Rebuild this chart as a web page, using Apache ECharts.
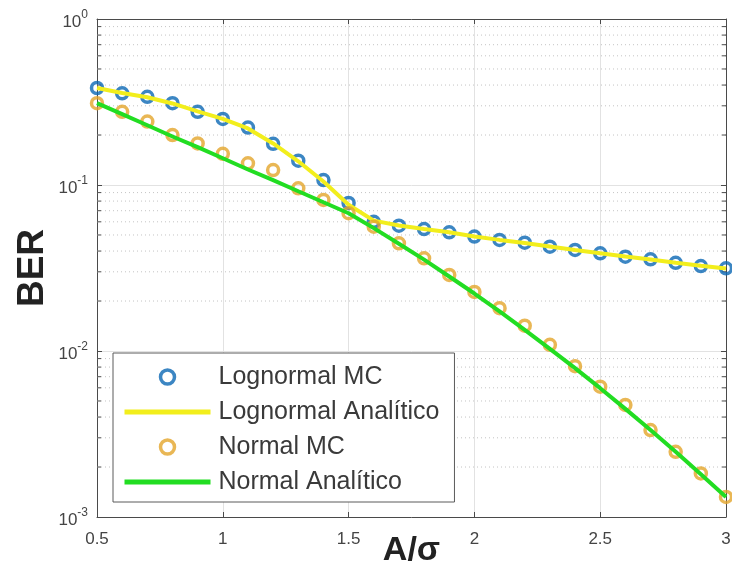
<!DOCTYPE html>
<html>
<head>
<meta charset="utf-8">
<script src="https://cdn.jsdelivr.net/npm/echarts@6/dist/echarts.min.js"></script>
<style>
html,body{margin:0;padding:0;background:#fff;}
#chart{width:732px;height:570px;}
</style>
</head>
<body>
<div id="chart"></div>
<script>
// ---- data ----
const xValues = [0.5,0.6,0.7,0.8,0.9,1.0,1.1,1.2,1.3,1.4,1.5,1.6,1.7,1.8,1.9,2.0,2.1,2.2,2.3,2.4,2.5,2.6,2.7,2.8,2.9,3.0];
const lognormalMC = [0.384,0.357,0.340,0.311,0.276,0.250,0.222,0.177,0.140,0.107,0.078,0.0600,0.0569,0.0543,0.0519,0.0489,0.0467,0.0449,0.0425,0.0406,0.0388,0.0370,0.0357,0.0340,0.0325,0.0315];
const lognormalAnalitico = [0.384,0.358,0.338,0.310,0.278,0.250,0.219,0.178,0.139,0.105,0.076,0.0610,0.0570,0.0543,0.0519,0.0490,0.0467,0.0447,0.0426,0.0406,0.0388,0.0371,0.0356,0.0340,0.0326,0.0314];
const normalMC = [0.311,0.276,0.241,0.200,0.178,0.154,0.135,0.123,0.0955,0.0813,0.0676,0.0561,0.0445,0.0362,0.0287,0.0227,0.0181,0.0142,0.0109,0.0081,0.0061,0.00473,0.00334,0.00247,0.00183,0.00132];
const normalAnalitico = [0.311,0.267,0.229,0.196,0.169,0.145,0.124,0.107,0.0917,0.0787,0.0676,0.0550,0.0443,0.0355,0.0281,0.0222,0.0173,0.0134,0.0103,0.00788,0.00597,0.00448,0.00334,0.00247,0.00181,0.00132];
const seriesNames = ['Lognormal MC','Lognormal Analítico','Normal MC','Normal Analítico'];
const minorY = [0.002,0.003,0.004,0.005,0.006,0.007,0.008,0.009,0.02,0.03,0.04,0.05,0.06,0.07,0.08,0.09,0.2,0.3,0.4,0.5,0.6,0.7,0.8,0.9];
const xMin = 0.5, xMax = 3, yMin = 0.001, yMax = 1;

const pair = (arr) => xValues.map((x, i) => [x, arr[i]]);
const FONT = '"Liberation Sans", Arial, Helvetica, sans-serif';
const AX = '#4a4a4a';
const BLUE = '#0b68b4', ORANGE = '#e4a52a', YELLOW = '#f2ee1c', GREEN = '#22dd22';
const CLEAR = 'rgba(255,255,255,0)';

const chart = echarts.init(document.getElementById('chart'), null, {renderer: 'canvas'});
const option = {
  backgroundColor: '#ffffff',
  animation: false,
  textStyle: {fontFamily: FONT},
  grid: {left: 97, right: 6, top: 19, bottom: 53, containLabel: false, outerBoundsMode: 'none'},
  legend: {
    data: [
      {name: seriesNames[0], icon: 'circle', itemStyle: {color: CLEAR, borderColor: BLUE, borderWidth: 3.5}},
      {name: seriesNames[1], itemStyle: {opacity: 0}, lineStyle: {color: YELLOW, width: 5}},
      {name: seriesNames[2], icon: 'circle', itemStyle: {color: CLEAR, borderColor: ORANGE, borderWidth: 3.5}},
      {name: seriesNames[3], itemStyle: {opacity: 0}, lineStyle: {color: GREEN, width: 5}}
    ],
    orient: 'vertical',
    left: 113, top: 353,
    itemWidth: 86, itemHeight: 14, itemGap: 7,
    padding: [10, 15, 6, 9],
    backgroundColor: '#ffffff',
    borderColor: '#5a5a5a', borderWidth: 1, borderRadius: 0,
    textStyle: {fontSize: 25, color: '#3a3a3a', fontFamily: FONT, lineHeight: 28, padding: [0,0,0,3]},
    selectedMode: false
  },
  xAxis: [{
    type: 'value', min: xMin, max: xMax, interval: 0.5, position: 'bottom',
    name: 'A/σ', nameLocation: 'middle', nameGap: 17, nameMoveOverlap: false,
    nameTextStyle: {fontSize: 34, fontWeight: 'bold', color: '#222', fontFamily: FONT},
    axisLine: {show: true, lineStyle: {color: AX, width: 1}},
    axisTick: {show: true, inside: true, length: 5, lineStyle: {color: AX}},
    axisLabel: {fontSize: 17, color: '#444', margin: 14, fontFamily: FONT},
    splitLine: {show: true, lineStyle: {color: '#e2e2e2', width: 1}}
  }, {
    type: 'value', min: xMin, max: xMax, interval: 0.5, position: 'top',
    axisLine: {show: true, lineStyle: {color: AX, width: 1}},
    axisTick: {show: true, inside: true, length: 5, lineStyle: {color: AX}},
    axisLabel: {show: false}, splitLine: {show: false}
  }],
  yAxis: [{
    type: 'log', logBase: 10, min: yMin, max: yMax, position: 'left',
    name: 'BER', nameLocation: 'middle', nameGap: 46, nameRotate: 90, nameMoveOverlap: false,
    nameTextStyle: {fontSize: 37, fontWeight: 'bold', color: '#222', fontFamily: FONT},
    axisLine: {show: true, lineStyle: {color: AX, width: 1}},
    axisTick: {show: true, inside: true, length: 5, lineStyle: {color: AX}},
    axisLabel: {
      margin: 9,
      formatter: function (v) {
        const e = Math.round(Math.log10(v));
        return '{b|10}{s|' + e + '}';
      },
      rich: {
        b: {fontSize: 17, color: '#444', fontFamily: FONT, padding: [7,0,0,0]},
        s: {fontSize: 12, color: '#444', fontFamily: FONT, padding: [0,0,8,0]}
      }
    },
    splitLine: {show: true, lineStyle: {color: '#e2e2e2', width: 1}}
  }, {
    type: 'log', logBase: 10, min: yMin, max: yMax, position: 'right',
    axisLine: {show: true, lineStyle: {color: AX, width: 1}},
    axisTick: {show: true, inside: true, length: 5, lineStyle: {color: AX}},
    axisLabel: {show: false}, splitLine: {show: false}
  }],
  series: [
    {
      name: 'minorGrid', type: 'custom', silent: true, z: 1,
      xAxisIndex: 0, yAxisIndex: 0, clip: false,
      data: minorY.map(v => [xMin, v]),
      encode: {x: 0, y: 1},
      renderItem: function (params, api) {
        const v = api.value(1);
        const l = api.coord([xMin, v]);
        const r = api.coord([xMax, v]);
        return {
          type: 'group',
          children: [
            {type: 'line', shape: {x1: l[0], y1: l[1], x2: r[0], y2: r[1]},
             style: {stroke: '#c4c4c4', lineWidth: 1, lineDash: [1, 3]}},
            {type: 'line', shape: {x1: l[0], y1: l[1], x2: l[0] + 4, y2: l[1]},
             style: {stroke: AX, lineWidth: 1}},
            {type: 'line', shape: {x1: r[0] - 4, y1: r[1], x2: r[0], y2: r[1]},
             style: {stroke: AX, lineWidth: 1}}
          ]
        };
      }
    },
    {
      name: seriesNames[0], type: 'scatter', z: 3, clip: false,
      symbol: 'circle', symbolSize: 11,
      itemStyle: {color: CLEAR, borderColor: BLUE, borderWidth: 3.5},
      data: pair(lognormalMC)
    },
    {
      name: seriesNames[1], type: 'line', z: 4, symbol: 'none', showSymbol: false, clip: false,
      itemStyle: {color: YELLOW},
      lineStyle: {color: YELLOW, width: 4},
      data: pair(lognormalAnalitico)
    },
    {
      name: seriesNames[2], type: 'scatter', z: 5, clip: false,
      symbol: 'circle', symbolSize: 11,
      itemStyle: {color: CLEAR, borderColor: ORANGE, borderWidth: 3.5},
      data: pair(normalMC)
    },
    {
      name: seriesNames[3], type: 'line', z: 6, symbol: 'none', showSymbol: false, clip: false,
      itemStyle: {color: GREEN},
      lineStyle: {color: GREEN, width: 4},
      data: pair(normalAnalitico)
    }
  ]
};
chart.setOption(option);
</script>
</body>
</html>
